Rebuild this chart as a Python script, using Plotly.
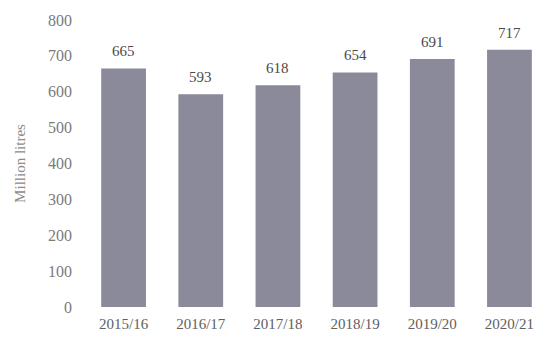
import plotly.graph_objects as go

categories = ["2015/16", "2016/17", "2017/18", "2018/19", "2019/20", "2020/21"]
values = [665, 593, 618, 654, 691, 717]
y_ticks = [0, 100, 200, 300, 400, 500, 600, 700, 800]

font_family = "Liberation Serif, Times New Roman, serif"

fig = go.Figure(go.Bar(
    x=categories,
    y=values,
    marker=dict(color="#8a8a9b", line=dict(width=0)),
))

for c, v in zip(categories, values):
    fig.add_annotation(
        x=c, y=v, text=str(v), showarrow=False,
        yanchor="bottom", yshift=7,
        font=dict(family=font_family, size=15, color="#4a4a4a"),
    )

fig.update_layout(
    width=538, height=340,
    margin=dict(l=85, r=0, t=20, b=33),
    paper_bgcolor="white", plot_bgcolor="white",
    bargap=0.42,
    showlegend=False,
    font=dict(family=font_family, color="#707070"),
    xaxis=dict(
        type="category",
        range=[-0.5, 5.37],
        showgrid=False, showline=False, zeroline=False,
        tickfont=dict(family=font_family, size=15, color="#606060"),
        ticks="",
        ticklabelstandoff=6,
    ),
    yaxis=dict(
        range=[0, 800],
        tickvals=y_ticks,
        showgrid=False, showline=False, zeroline=False,
        tickfont=dict(family=font_family, size=16, color="#7a7a7a"),
        ticks="",
        ticklabelstandoff=12,
        title=dict(text="Million litres", font=dict(family=font_family, size=15, color="#8c8c8c"), standoff=18),
    ),
)

fig.write_html("out.html")
